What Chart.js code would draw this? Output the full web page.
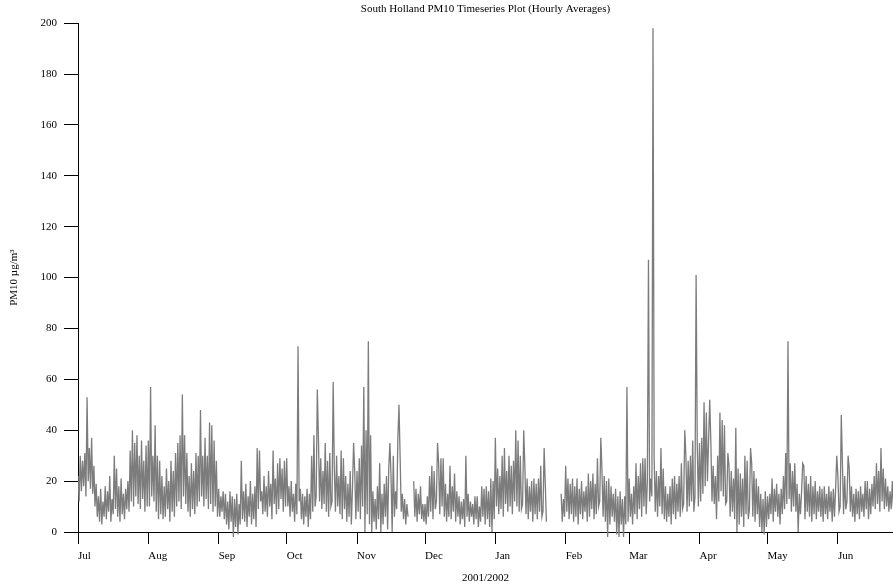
<!DOCTYPE html>
<html>
<head>
<meta charset="utf-8">
<script src="https://cdn.jsdelivr.net/npm/chart.js@4"></script>
<style>
body{margin:0;background:#fff}
#wrap{width:893px;height:586px}
</style>
</head>
<body>
<div id="wrap"><canvas id="pm10Chart"></canvas></div>
<script>
// month labels, and where each month starts (days since 1 Jul 2001)
const monthLabels = ["Jul","Aug","Sep","Oct","Nov","Dec","Jan","Feb","Mar","Apr","May","Jun"];
const monthStart = [0,31,62,92,123,153,184,215,243,274,304,335];

// PM10 readings, two per day (00h, 12h); null = missing
const jul = [22,12, 30,16, 28,18, 31,14, 53,20, 33,17, 37,15, 26,10, 19,6, 14,4, 17,3, 12,6, 18,5, 16,8, 22,4, 13,7, 30,9, 25,6, 18,4, 21,7, 15,5, 17,9, 20,8, 32,12, 40,10, 35,14, 38,11, 30,9, 36,13, 28,8, 34,10];
const aug = [36,10, 57,14, 30,12, 42,8, 30,5, 28,7, 22,5, 18,6, 25,9, 20,4, 28,8, 24,6, 31,10, 35,12, 38,9, 54,14, 38,11, 31,8, 22,6, 27,9, 24,7, 31,10, 30,12, 48,14, 30,10, 37,13, 30,9, 43,11, 42,8, 36,10, 28,6];
const sep = [17,6, 14,8, 16,5, 15,3, 12,1, 16,4, 14,-2, 13,2, 15,-1, 11,3, 28,5, 16,4, 19,2, 14,6, 20,3, 15,5, 18,2, 33,9, 32,12, 16,7, 22,8, 18,6, 24,10, 19,5, 32,11, 21,7, 27,9, 29,13, 25,8, 28,10];
const oct = [29,10, 18,6, 20,8, 15,4, 19,7, 73,12, 17,5, 15,3, 14,6, 17,2, 15,5, 30,8, 38,10, 14,56, 37,12, 29,9, 24,11, 35,8, 28,6, 31,10, 12,59, 25,8, 30,10, 22,7, 32,5, 29,9, 22,4, 19,6, 24,3, 17,35, 24,5];
const nov = [24,8, 29,5, 34,10, 57,0, 40,7, 75,3, 38,0, 16,4, 13,1, 18,5, 27,0, 15,3, 19,6, 22,1, 25,35, 22,0, 30,6, 16,9, 36,50, 30,8, 15,5, 13,3, 11,6, null,null, null,null, 20,6, 17,4, 15,7, 18,5, 11,4];
const dec = [11,3, 14,6, 22,8, 26,5, 24,9, 12,35, 27,7, 29,10, 29,6, 19,4, 15,6, 26,5, 18,8, 23,4, 16,6, 14,3, 12,5, 13,2, 30,6, 15,4, 12,6, 11,3, 14,5, 14,2, 10,4, 18,6, 17,3, 18,5, 16,2, 21,0, 20,5];
const jan = [37,10, 25,7, 22,9, 30,6, 33,11, 24,8, 30,10, 26,7, 28,12, 40,10, 36,8, 30,9, 11,40, 26,7, 21,5, 18,8, 20,4, 21,7, 19,5, 21,8, 26,6, 8,33, 19,4, null,null, null,null, null,null, null,null, null,null, null,null, 15,4, 13,6];
const feb = [26,8, 21,5, 19,7, 21,4, 18,6, 21,3, 17,7, 20,5, 16,8, 18,4, 23,6, 20,9, 23,5, 19,7, 29,10, 12,37, 24,6, 22,4, 20,-2, 21,3, 18,6, 15,4, 17,-1, 14,-2, 16,3, 13,-2, 14,3, 57,4];
const mar = [21,6, 15,3, 18,7, 27,5, 22,9, 27,6, 29,10, 29,7, 20,107, 12,21, 14,198, 29,8, 24,6, 22,10, 33,7, 25,5, 18,4, 15,6, 18,3, 21,7, 22,5, 19,8, 22,6, 27,9, 11,40, 30,8, 28,10, 30,12, 36,8, 14,101, 35,10];
const apr = [35,12, 37,15, 51,18, 47,20, 36,52, 35,12, 26,11, 22,5, 30,12, 47,16, 44,14, 42,11, 12,31, 26,6, 24,8, 21,5, 41,0, 25,3, 23,6, 21,2, 30,7, 28,5, 9,33, 27,6, 24,4, 21,7, 18,2, 15,0, 13,-1, 16,2];
const may = [14,5, 15,7, 21,4, 17,8, 19,6, 15,3, 17,7, 22,9, 31,11, 75,13, 27,8, 24,10, 27,8, 19,0, 15,7, 16,27, 26,5, 22,8, 19,6, 22,4, 18,7, 20,5, 16,8, 18,6, 17,4, 18,7, 15,5, 18,8, 16,4, 17,6, 17,30];
const jun = [22,8, 10,46, 27,7, 22,9, 12,30, 25,8, 18,6, 15,4, 17,7, 16,5, 18,8, 15,6, 20,9, 20,5, 17,7, 19,10, 22,9, 27,11, 24,8, 33,12, 25,9, 21,10, 18,8, 16,9, 20,10, 17,9];

const months = [jul, aug, sep, oct, nov, dec, jan, feb, mar, apr, may, jun];
const points = [];
months.forEach((vals, m) => {
  vals.forEach((v, i) => points.push({x: monthStart[m] + i / 2, y: v}));
});

Chart.defaults.font.family = "'Liberation Serif', serif";
Chart.defaults.font.size = 11;
Chart.defaults.color = "#000";

new Chart(document.getElementById("pm10Chart"), {
  type: "line",
  data: {
    datasets: [{
      data: points,
      borderColor: "#7c7c7c",
      borderWidth: 1.3,
      pointRadius: 0,
      tension: 0,
      spanGaps: false,
      clip: {left: 0, top: 6, right: 0, bottom: 8}
    }]
  },
  options: {
    responsive: true,
    maintainAspectRatio: false,
    animation: false,
    layout: {padding: 0},
    plugins: {
      legend: {display: false},
      tooltip: {enabled: false},
      title: {
        display: true,
        text: "South Holland PM10 Timeseries Plot (Hourly Averages)",
        font: {size: 11, weight: "normal"},
        padding: {top: 3, bottom: 7},
        fullSize: false
      }
    },
    scales: {
      x: {
        type: "linear",
        min: 0,
        max: 359.3,
        afterBuildTicks: s => { s.ticks = monthStart.map(v => ({value: v})); },
        afterFit: s => { s.height = 54; },
        ticks: {
          callback: (v, i) => monthLabels[i],
          align: "start",
          maxRotation: 0,
          autoSkip: false,
          padding: 6
        },
        grid: {drawOnChartArea: false, tickLength: 12, color: "#000"},
        border: {color: "#000"},
        title: {display: true, text: "2001/2002", padding: {top: 0, bottom: 1}}
      },
      y: {
        min: 0,
        max: 200,
        afterFit: s => { s.width = 78; },
        ticks: {stepSize: 20, padding: 7},
        grid: {drawOnChartArea: false, tickLength: 14, color: "#000"},
        border: {color: "#000"},
        title: {display: true, text: "PM10 µg/m³", padding: {top: 8, bottom: 0}}
      }
    }
  }
});
</script>
</body>
</html>
